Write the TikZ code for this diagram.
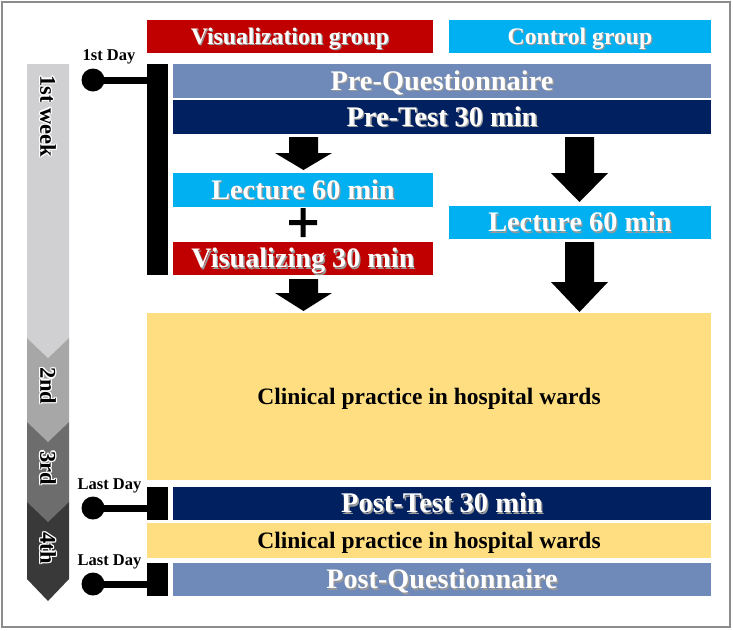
\documentclass[tikz,border=0pt]{standalone}
\usepackage{fontspec}
\setmainfont{Liberation Serif}
\definecolor{vred}{HTML}{C00000}
\definecolor{lblue}{HTML}{00B0F0}
\definecolor{steel}{HTML}{6F89B8}
\definecolor{navy}{HTML}{002060}
\definecolor{ylw}{HTML}{FFDE82}
\definecolor{wk1}{HTML}{D0CFD1}
\definecolor{wk2}{HTML}{A8A7A8}
\definecolor{wk3}{HTML}{6E6D6E}
\definecolor{wk4}{HTML}{3A393A}
\newcommand{\fsz}[1]{\fontsize{#1}{#1}\selectfont}
% white text with soft shadow, caps centred
\newcommand{\wtxt}[2]{\fsz{#1}\raisebox{0pt}[0.662em][0pt]{\rlap{\kern0.05em\raisebox{-0.05em}{\textcolor{black!40}{#2}}}#2}}
% black text, caps centred
\newcommand{\btxt}[2]{\fsz{#1}\raisebox{0pt}[0.662em][0pt]{#2}}
% black text with white halo
\newcommand{\halotxt}[1]{\leavevmode
 \rlap{\kern-1.3pt\textcolor{white}{#1}}\rlap{\kern1.3pt\textcolor{white}{#1}}%
 \rlap{\raisebox{1.3pt}{\textcolor{white}{#1}}}\rlap{\raisebox{-1.3pt}{\textcolor{white}{#1}}}%
 \rlap{\kern0.9pt\raisebox{0.9pt}{\textcolor{white}{#1}}}\rlap{\kern-0.9pt\raisebox{0.9pt}{\textcolor{white}{#1}}}%
 \rlap{\kern0.9pt\raisebox{-0.9pt}{\textcolor{white}{#1}}}\rlap{\kern-0.9pt\raisebox{-0.9pt}{\textcolor{white}{#1}}}%
 #1}
\newcommand{\weeklabel}[1]{\fsz{22.5}\bfseries\raisebox{0pt}[0.68em][0pt]{\halotxt{#1}}}
\begin{document}
\begin{tikzpicture}[x=1pt,y=-1pt,
  box/.style={anchor=north west, inner sep=0pt, outer sep=0pt, text=white, font=\bfseries},
  bbox/.style={box, text=black},
  bar/.style={anchor=north west, inner sep=0pt, outer sep=0pt, fill=black, minimum width=21pt},
  dot/.style={circle, fill=black, inner sep=0pt, minimum size=23pt},
  daylabel/.style={anchor=base, inner sep=0pt, font=\fsz{16.5}\bfseries},
  link/.style={line width=7pt}
]
\useasboundingbox (0,0) rectangle (733,630);
\fill[white] (0,0) rectangle (733,630);
\draw[black!45, line width=1.3pt] (2,2) rectangle (730,627);

% week arrow
\fill[wk4] (27,502)--(69,502)--(69,579)--(48,601)--(27,579)--cycle;
\fill[wk3] (27,422)--(69,422)--(69,502)--(48,522)--(27,502)--cycle;
\fill[wk2] (27,338)--(69,338)--(69,422)--(48,442)--(27,422)--cycle;
\fill[wk1] (27,64)--(69,64)--(69,338)--(48,358)--(27,338)--cycle;
\node[rotate=-90, inner sep=0pt] (w1) at (48,116) {\weeklabel{1st week}};
\node[rotate=-90, inner sep=0pt] (w2) at (48,386) {\weeklabel{2nd}};
\node[rotate=-90, inner sep=0pt] (w3) at (48,468) {\weeklabel{3rd}};
\node[rotate=-90, inner sep=0pt] (w4) at (48,548) {\weeklabel{4th}};

% group headers
\node[box, fill=vred, minimum width=286pt, minimum height=33pt] (vizg) at (147,20) {\wtxt{23.7}{Visualization group}};
\node[box, fill=lblue, minimum width=262pt, minimum height=33pt] (ctlg) at (449,20) {\wtxt{23.7}{Control group}};

% first day
\node[bar, minimum height=211pt] (bar1) at (147,64) {};
\node[dot] (d1) at (93,80) {};
\node[daylabel] (day1) at (109,60) {1st Day};
\draw[link] (d1.center) -- (d1.center -| bar1.west);

\node[box, fill=steel, minimum width=538pt, minimum height=34pt] (preq) at (173,64) {\wtxt{28.4}{Pre-Questionnaire}};
\node[box, fill=navy, minimum width=538pt, minimum height=34pt] (pret) at (173,100) {\wtxt{28.4}{Pre-Test 30 min}};

\node[box, fill=lblue, minimum width=260pt, minimum height=34pt] (lecl) at (173,173) {\wtxt{28.3}{Lecture 60 min}};
% plus sign between lecture and visualizing
\coordinate (plus) at (303,222.5);
\fill[black] ([xshift=-14pt,yshift=-2.5pt]plus) rectangle ([xshift=14pt,yshift=2.5pt]plus)
             ([xshift=-2.5pt,yshift=-14.5pt]plus) rectangle ([xshift=2.5pt,yshift=14.5pt]plus);
\node[box, fill=vred, minimum width=260pt, minimum height=33pt] (viz) at (173,242) {\wtxt{28.2}{Visualizing 30 min}};
\node[box, fill=lblue, minimum width=262pt, minimum height=33pt] (lecr) at (449,206) {\wtxt{28.3}{Lecture 60 min}};

% block arrows
\newcommand{\blockarrow}[4]{\fill[black] (#1-14.5,#2) -- (#1+14.5,#2) -- (#1+14.5,#3) -- (#1+28.5,#3) -- (#1,#4) -- (#1-28.5,#3) -- (#1-14.5,#3) -- cycle;}
\blockarrow{303.5}{137}{153}{170}
\blockarrow{303.5}{279}{293}{311}
\blockarrow{579.5}{137}{173}{202}
\blockarrow{579.5}{242}{282}{312}

% clinical practice
\node[bbox, fill=ylw, minimum width=564pt, minimum height=167pt] (clin) at (147,313) {\raisebox{-6pt}{\btxt{23.5}{Clinical practice in hospital wards}}};

% post test
\node[bar, minimum height=33pt] (bar2) at (147,487) {};
\node[dot] (d2) at (93,508) {};
\node[daylabel] (day2) at (109.5,489) {Last Day};
\draw[link] (d2.center) -- (d2.center -| bar2.west);
\node[box, fill=navy, minimum width=538pt, minimum height=33pt] (postt) at (173,487) {\wtxt{28.5}{Post-Test 30 min}};

\node[bbox, fill=ylw, minimum width=564pt, minimum height=35pt] (clin2) at (147,523) {\btxt{23.5}{Clinical practice in hospital wards}};

% post questionnaire
\node[bar, minimum height=33pt] (bar3) at (147,563) {};
\node[dot] (d3) at (93,584) {};
\node[daylabel] (day3) at (109.5,565) {Last Day};
\draw[link] (d3.center) -- (d3.center -| bar3.west);
\node[box, fill=steel, minimum width=538pt, minimum height=33pt] (postq) at (173,563) {\wtxt{28.2}{Post-Questionnaire}};
\end{tikzpicture}
\end{document}
